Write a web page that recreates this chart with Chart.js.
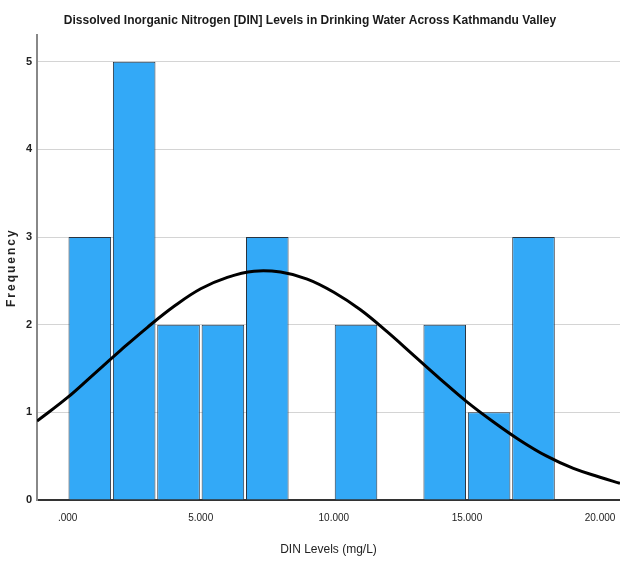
<!DOCTYPE html>
<html>
<head>
<meta charset="utf-8">
<script src="https://cdn.jsdelivr.net/npm/chart.js@4"></script>
<style>
  html, body { margin: 0; padding: 0; background: #fff; }
  #wrap { width: 620px; height: 563px; position: relative; }
</style>
</head>
<body>
<div id="wrap"><canvas id="chart"></canvas></div>
<script>
// histogram bins (lower edges) and frequencies
const binStarts = [0, 1.667, 3.333, 5, 6.667, 8.333, 10, 11.667, 13.333, 15, 16.667];
const binWidth = 1.667;
const counts = [3, 5, 2, 2, 3, 0, 2, 0, 2, 1, 3];

// normal curve
const curveX = [-1.15, 0, 1, 2, 3, 4, 5, 6, 7, 8, 9, 10, 11, 12, 13, 14, 15, 16, 17, 18, 19, 20, 20.75];
const curveY = [0.90, 1.17, 1.44, 1.71, 1.97, 2.21, 2.41, 2.54, 2.61, 2.60, 2.52, 2.37, 2.17, 1.92, 1.65, 1.38, 1.12, 0.89, 0.68, 0.50, 0.36, 0.26, 0.19];

const xTicks = [0, 5, 10, 15, 20];
const xTickLabels = ['.000', '5.000', '10.000', '15.000', '20.000'];
const yTicks = [0, 1, 2, 3, 4, 5];

const font = '"Liberation Sans", Arial, sans-serif';

const barData = binStarts.map((s, i) => ({ x: s + binWidth / 2, y: counts[i] }));
const lineData = curveX.map((x, i) => ({ x: x, y: curveY[i] }));

// y axis title drawn by hand so it can be letter-spaced like the original
const yTitle = {
    id: 'yTitle',
    afterDraw(chart) {
        const c = chart.ctx;
        const area = chart.chartArea;
        c.save();
        c.translate(12, (area.top + area.bottom) / 2);
        c.rotate(-Math.PI / 2);
        c.font = 'bold 12px ' + font;
        c.letterSpacing = '2px';
        c.fillStyle = '#222';
        c.textAlign = 'center';
        c.textBaseline = 'middle';
        c.fillText('Frequency', 0, 0);
        c.restore();
    }
};

const ctx = document.getElementById('chart').getContext('2d');
new Chart(ctx, {
    type: 'bar',
    data: {
        datasets: [{
            type: 'line',
            data: lineData,
            borderColor: '#000',
            borderWidth: 3,
            pointRadius: 0,
            tension: 0.4,
            fill: false,
            order: 0
        }, {
            type: 'bar',
            data: barData,
            backgroundColor: '#33a9f7',
            borderColor: '#2a3440',
            borderWidth: 1,
            barPercentage: 0.96,
            categoryPercentage: 1,
            order: 1
        }]
    },
    plugins: [yTitle],
    options: {
        responsive: true,
        maintainAspectRatio: false,
        animation: false,
        layout: { padding: 0 },
        plugins: {
            legend: { display: false },
            tooltip: { enabled: false },
            title: {
                display: true,
                text: 'Dissolved Inorganic Nitrogen [DIN] Levels in Drinking Water Across Kathmandu Valley',
                color: '#1a1a1a',
                font: { family: font, size: 12, weight: 'bold' },
                padding: { top: 13, bottom: 8 }
            }
        },
        scales: {
            x: {
                type: 'linear',
                min: -1.15,
                max: 20.75,
                offset: false,
                afterBuildTicks: (axis) => { axis.ticks = xTicks.map(v => ({ value: v })); },
                afterFit: (axis) => {
                    axis.height = 63;
                    axis.paddingLeft = 0;
                    axis.paddingRight = 0;
                },
                ticks: {
                    color: '#222',
                    font: { family: font, size: 10 },
                    padding: 12,
                    maxRotation: 0,
                    callback: (v) => xTickLabels[xTicks.indexOf(v)]
                },
                grid: { display: false, drawTicks: false },
                border: { display: true, color: '#333', width: 2 },
                title: {
                    display: true,
                    text: 'DIN Levels (mg/L)',
                    color: '#222',
                    font: { family: font, size: 12 },
                    padding: { top: 0, bottom: 6 }
                }
            },
            y: {
                min: 0,
                max: 5.3,
                afterBuildTicks: (axis) => { axis.ticks = yTicks.map(v => ({ value: v })); },
                afterFit: (axis) => { axis.width = 37; },
                ticks: {
                    color: '#222',
                    font: { family: font, size: 11, weight: 'bold' },
                    padding: 5
                },
                grid: { color: '#d4d4d4', lineWidth: 1, drawTicks: false },
                border: { display: true, color: '#888', width: 2 },
                title: { display: false }
            }
        }
    }
});
</script>
</body>
</html>
